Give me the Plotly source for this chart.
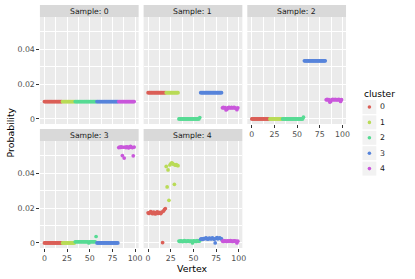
import plotly.graph_objects as go

# ---------------- data ----------------
vertex = list(range(100))
cluster_names = ["0", "1", "2", "3", "4"]
cluster_sizes = [20, 14, 24, 24, 18]
cluster_colors = ["#db5f57", "#b9db57", "#57db94", "#5784db", "#c957db"]
sample_labels = ["Sample: 0", "Sample: 1", "Sample: 2", "Sample: 3", "Sample: 4"]
x_tick_vals = [0, 25, 50, 75, 100]
x_tick_text = ["0", "25", "50", "75", "100"]
y_tick_vals = [0, 0.02, 0.04]
y_tick_text = ["0", "0.02", "0.04"]

prob_s0 = [
    0.010, 0.010, 0.010, 0.010, 0.010, 0.010, 0.010, 0.010, 0.010, 0.010,
    0.010, 0.010, 0.010, 0.010, 0.010, 0.010, 0.010, 0.010, 0.010, 0.010,
    0.010, 0.010, 0.010, 0.010, 0.010, 0.010, 0.010, 0.010, 0.010, 0.010,
    0.010, 0.010, 0.010, 0.010, 0.010, 0.010, 0.010, 0.010, 0.010, 0.010,
    0.010, 0.010, 0.010, 0.010, 0.010, 0.010, 0.010, 0.010, 0.010, 0.010,
    0.010, 0.010, 0.010, 0.010, 0.010, 0.010, 0.010, 0.010, 0.010, 0.010,
    0.010, 0.010, 0.010, 0.010, 0.010, 0.010, 0.010, 0.010, 0.010, 0.010,
    0.010, 0.010, 0.010, 0.010, 0.010, 0.010, 0.010, 0.010, 0.010, 0.010,
    0.010, 0.010, 0.010, 0.010, 0.010, 0.010, 0.010, 0.010, 0.010, 0.010,
    0.010, 0.010, 0.010, 0.010, 0.010, 0.010, 0.010, 0.010, 0.010, 0.010,
]

prob_s1 = [
    # cluster 0
    0.0151, 0.0151, 0.0151, 0.0151, 0.0151, 0.0151, 0.0151, 0.0151, 0.0151, 0.0151,
    0.0151, 0.0151, 0.0151, 0.0151, 0.0151, 0.0151, 0.0151, 0.0151, 0.0151, 0.0151,
    # cluster 1
    0.0151, 0.0151, 0.0151, 0.0151, 0.0151, 0.0151, 0.0151, 0.0151, 0.0151, 0.0151,
    0.0151, 0.0151, 0.0151, 0.0151,
    # cluster 2
    0, 0, 0, 0, 0, 0, 0, 0, 0, 0, 0, 0, 0, 0, 0, 0, 0, 0, 0, 0, 0, 0, 0, 0.0008,
    # cluster 3
    0.0151, 0.0151, 0.0151, 0.0151, 0.0151, 0.0151, 0.0151, 0.0151, 0.0151, 0.0151,
    0.0151, 0.0151, 0.0151, 0.0151, 0.0151, 0.0151, 0.0151, 0.0151, 0.0151, 0.0151,
    0.0151, 0.0151, 0.0151, 0.0151,
    # cluster 4
    0.0064, 0.0066, 0.0063, 0.0065, 0.0052, 0.0056, 0.0064, 0.0066, 0.0065, 0.0063,
    0.0066, 0.0064, 0.0065, 0.0066, 0.0063, 0.0061, 0.0053, 0.0064,
]

prob_s2 = [
    # cluster 0
    0, 0, 0, 0, 0, 0, 0, 0, 0, 0, 0, 0, 0, 0, 0, 0, 0, 0, 0, 0,
    # cluster 1
    0, 0, 0, 0, 0, 0, 0, 0, 0, 0, 0, 0, 0, 0,
    # cluster 2
    0, 0, 0, 0, 0, 0, 0, 0, 0, 0, 0, 0, 0, 0, 0, 0, 0, 0, 0, 0, 0, 0, 0, 0.0010,
    # cluster 3
    0.0334, 0.0334, 0.0334, 0.0334, 0.0334, 0.0334, 0.0334, 0.0334, 0.0334, 0.0334,
    0.0334, 0.0334, 0.0334, 0.0334, 0.0334, 0.0334, 0.0334, 0.0334, 0.0334, 0.0334,
    0.0334, 0.0334, 0.0334, 0.0334,
    # cluster 4
    0.0110, 0.0112, 0.0109, 0.0111, 0.0097, 0.0100, 0.0110, 0.0112, 0.0111, 0.0109,
    0.0113, 0.0110, 0.0111, 0.0109, 0.0112, 0.0110, 0.0101, 0.0111,
]

prob_s3 = [
    # cluster 0
    0, 0, 0, 0, 0, 0, 0, 0, 0, 0, 0, 0, 0, 0, 0, 0, 0, 0, 0, 0,
    # cluster 1
    0, 0, 0, 0, 0, 0, 0, 0, 0, 0, 0, 0, 0, 0,
    # cluster 2
    0.0007, 0.0007, 0.0007, 0.0007, 0.0007, 0.0007, 0.0007, 0.0007, 0.0007, 0.0007,
    0.0007, 0.0007, 0.0007, 0.0007, 0.0007, 0.0000, 0.0007, 0.0007, 0.0007, 0.0007,
    0.0007, 0.0007, 0.0007, 0.0037,
    # cluster 3
    0, 0, 0, 0, 0, 0, 0, 0, 0, 0, 0, 0, 0, 0, 0, 0, 0, 0, 0, 0, 0, 0, 0, 0,
    # cluster 4
    0.0548, 0.0551, 0.0549, 0.0552, 0.0502, 0.0550, 0.0488, 0.0551, 0.0548, 0.0553,
    0.0549, 0.0547, 0.0552, 0.0555, 0.0550, 0.0548, 0.0501, 0.0551,
]

prob_s4 = [
    # cluster 0
    0.0173, 0.0170, 0.0176, 0.0180, 0.0172, 0.0168, 0.0177, 0.0174, 0.0167, 0.0175,
    0.0179, 0.0170, 0.0176, 0.0172, 0.0169, 0.0177, 0.0002, 0.0183, 0.0192, 0.0198,
    # cluster 1
    0.0440, 0.0322, 0.0420, 0.0245, 0.0448, 0.0455, 0.0461, 0.0458, 0.0452, 0.0337,
    0.0447, 0.0450, 0.0446, 0.0444,
    # cluster 2
    0.0011, 0.0009, 0.0012, 0.0010, 0.0008, 0.0011, 0.0013, 0.0010, 0.0009, 0.0011,
    0.0012, 0.0010, 0.0009, 0.0011, 0.0010, 0.0000, 0.0012, 0.0010, 0.0011, 0.0009,
    0.0013, 0.0011, 0.0010, 0.0012,
    # cluster 3
    0.0022, 0.0024, 0.0021, 0.0025, 0.0023, 0.0027, 0.0030, 0.0024, 0.0022, 0.0026,
    0.0028, 0.0023, 0.0025, 0.0029, 0.0024, 0.0022, 0.0000, 0.0026, 0.0031, 0.0024,
    0.0027, 0.0030, 0.0025, 0.0023,
    # cluster 4
    0.0011, 0.0009, 0.0012, 0.0010, 0.0011, 0.0009, 0.0012, 0.0010, 0.0011, 0.0013,
    0.0010, 0.0009, 0.0011, 0.0012, 0.0010, 0.0011, 0.0000, 0.0010,
]

samples = [prob_s0, prob_s1, prob_s2, prob_s3, prob_s4]

cluster_of = []
for ci, n in enumerate(cluster_sizes):
    cluster_of += [ci] * n

# ---------------- layout geometry (pixels) ----------------
W, H = 415, 279
FONT = "DejaVu Sans"
col_px = [(40.3, 140.0), (145.0, 244.7), (249.7, 349.4)]
row_px = [(17.0, 124.0), (141.0, 248.0)]
STRIP_H = 12.0
X_RANGE = [-4.95, 103.95]
Y_RANGE = [-0.0029, 0.0586]


def px(x):
    return x / W


def py(y):
    return 1 - y / H


panel_pos = [(0, 0), (0, 1), (0, 2), (1, 0), (1, 1)]

fig = go.Figure()
layout = dict(
    width=W, height=H,
    margin=dict(l=0, r=0, t=0, b=0),
    paper_bgcolor="white",
    plot_bgcolor="#EBEBEB",
    showlegend=False,
    font=dict(family=FONT, color="#4D4D4D"),
)
shapes = []
annotations = []

for p, (r, c) in enumerate(panel_pos):
    ax = "" if p == 0 else str(p + 1)
    x0, x1 = col_px[c]
    y0, y1 = row_px[r]
    show_x = (r == 1) or (c == 2)
    show_y = (c == 0)
    layout["xaxis" + ax] = dict(
        domain=[px(x0), px(x1)], range=X_RANGE, anchor="y" + ax,
        tickvals=x_tick_vals, ticktext=x_tick_text,
        showticklabels=show_x, ticks="outside" if show_x else "",
        ticklen=2.5, tickwidth=0.8, tickcolor="#333333",
        tickfont=dict(size=7.8, color="#4D4D4D", family=FONT),
        showgrid=True, gridcolor="white", gridwidth=1,
        minor=dict(showgrid=True, gridcolor="white", gridwidth=0.5,
                   tickvals=[12.5, 37.5, 62.5, 87.5], ticks=""),
        zeroline=False, showline=False, fixedrange=True,
    )
    layout["yaxis" + ax] = dict(
        domain=[py(y1), py(y0)], range=Y_RANGE, anchor="x" + ax,
        tickvals=y_tick_vals, ticktext=y_tick_text,
        showticklabels=show_y, ticks="outside" if show_y else "",
        ticklen=2.5, tickwidth=0.8, tickcolor="#333333",
        tickfont=dict(size=7.8, color="#4D4D4D", family=FONT),
        showgrid=True, gridcolor="white", gridwidth=1,
        minor=dict(showgrid=True, gridcolor="white", gridwidth=0.5,
                   tickvals=[0.01, 0.03, 0.05], ticks=""),
        zeroline=False, showline=False, fixedrange=True,
    )
    # strip
    shapes.append(dict(type="rect", xref="paper", yref="paper",
                       x0=px(x0), x1=px(x1), y0=py(y0), y1=py(y0 - STRIP_H),
                       fillcolor="#D9D9D9", line=dict(width=0), layer="below"))
    annotations.append(dict(text=sample_labels[p], xref="paper", yref="paper",
                            x=px((x0 + x1) / 2), y=py(y0 - STRIP_H / 2),
                            xanchor="center", yanchor="middle", showarrow=False,
                            font=dict(size=7.7, color="#1A1A1A", family=FONT)))
    probs = samples[p]
    for ci in range(len(cluster_names)):
        xs = [v for v in vertex if cluster_of[v] == ci]
        ys = [probs[v] for v in vertex if cluster_of[v] == ci]
        fig.add_trace(go.Scatter(
            x=xs, y=ys, mode="markers", xaxis="x" + ax, yaxis="y" + ax,
            marker=dict(color=cluster_colors[ci], size=3.7, line=dict(width=0)),
            name=cluster_names[ci], hoverinfo="skip",
        ))

# axis titles
annotations.append(dict(text="Vertex", xref="paper", yref="paper",
                        x=px((col_px[0][0] + col_px[2][1]) / 2), y=py(268),
                        xanchor="center", yanchor="middle", showarrow=False,
                        font=dict(size=9.4, color="black", family=FONT)))
annotations.append(dict(text="Probability", xref="paper", yref="paper",
                        x=px(11), y=py((row_px[0][0] + row_px[1][1]) / 2),
                        xanchor="center", yanchor="middle", showarrow=False,
                        textangle=-90,
                        font=dict(size=9.4, color="black", family=FONT)))

# legend (manual, ggplot style)
LEG_X = 366.0
LEG_TITLE_Y = 93.5
LEG_Y0 = 107.0
LEG_STEP = 15.4
KEY = 14.0
DOT_R = 1.8
annotations.append(dict(text="cluster", xref="paper", yref="paper",
                        x=px(LEG_X), y=py(LEG_TITLE_Y),
                        xanchor="left", yanchor="middle", showarrow=False,
                        font=dict(size=9.1, color="black", family=FONT)))
for i, name in enumerate(cluster_names):
    cy = LEG_Y0 + i * LEG_STEP
    cx = LEG_X + KEY / 2
    shapes.append(dict(type="rect", xref="paper", yref="paper",
                       x0=px(LEG_X), x1=px(LEG_X + KEY),
                       y0=py(cy + KEY / 2), y1=py(cy - KEY / 2),
                       fillcolor="#F2F2F2", line=dict(width=0), layer="below"))
    shapes.append(dict(type="circle", xref="paper", yref="paper",
                       x0=px(cx - DOT_R), x1=px(cx + DOT_R),
                       y0=py(cy + DOT_R), y1=py(cy - DOT_R),
                       fillcolor=cluster_colors[i], line=dict(width=0),
                       layer="above"))
    annotations.append(dict(text=name, xref="paper", yref="paper",
                            x=px(LEG_X + KEY + 1.5), y=py(cy),
                            xanchor="left", yanchor="middle", showarrow=False,
                            font=dict(size=7.8, color="#1A1A1A", family=FONT)))

layout["shapes"] = shapes
layout["annotations"] = annotations
fig.update_layout(**layout)

fig.write_html(
    "out.html",
    config={"displayModeBar": False},
    post_script="document.body.style.margin='0';document.body.style.overflow='hidden';",
)
